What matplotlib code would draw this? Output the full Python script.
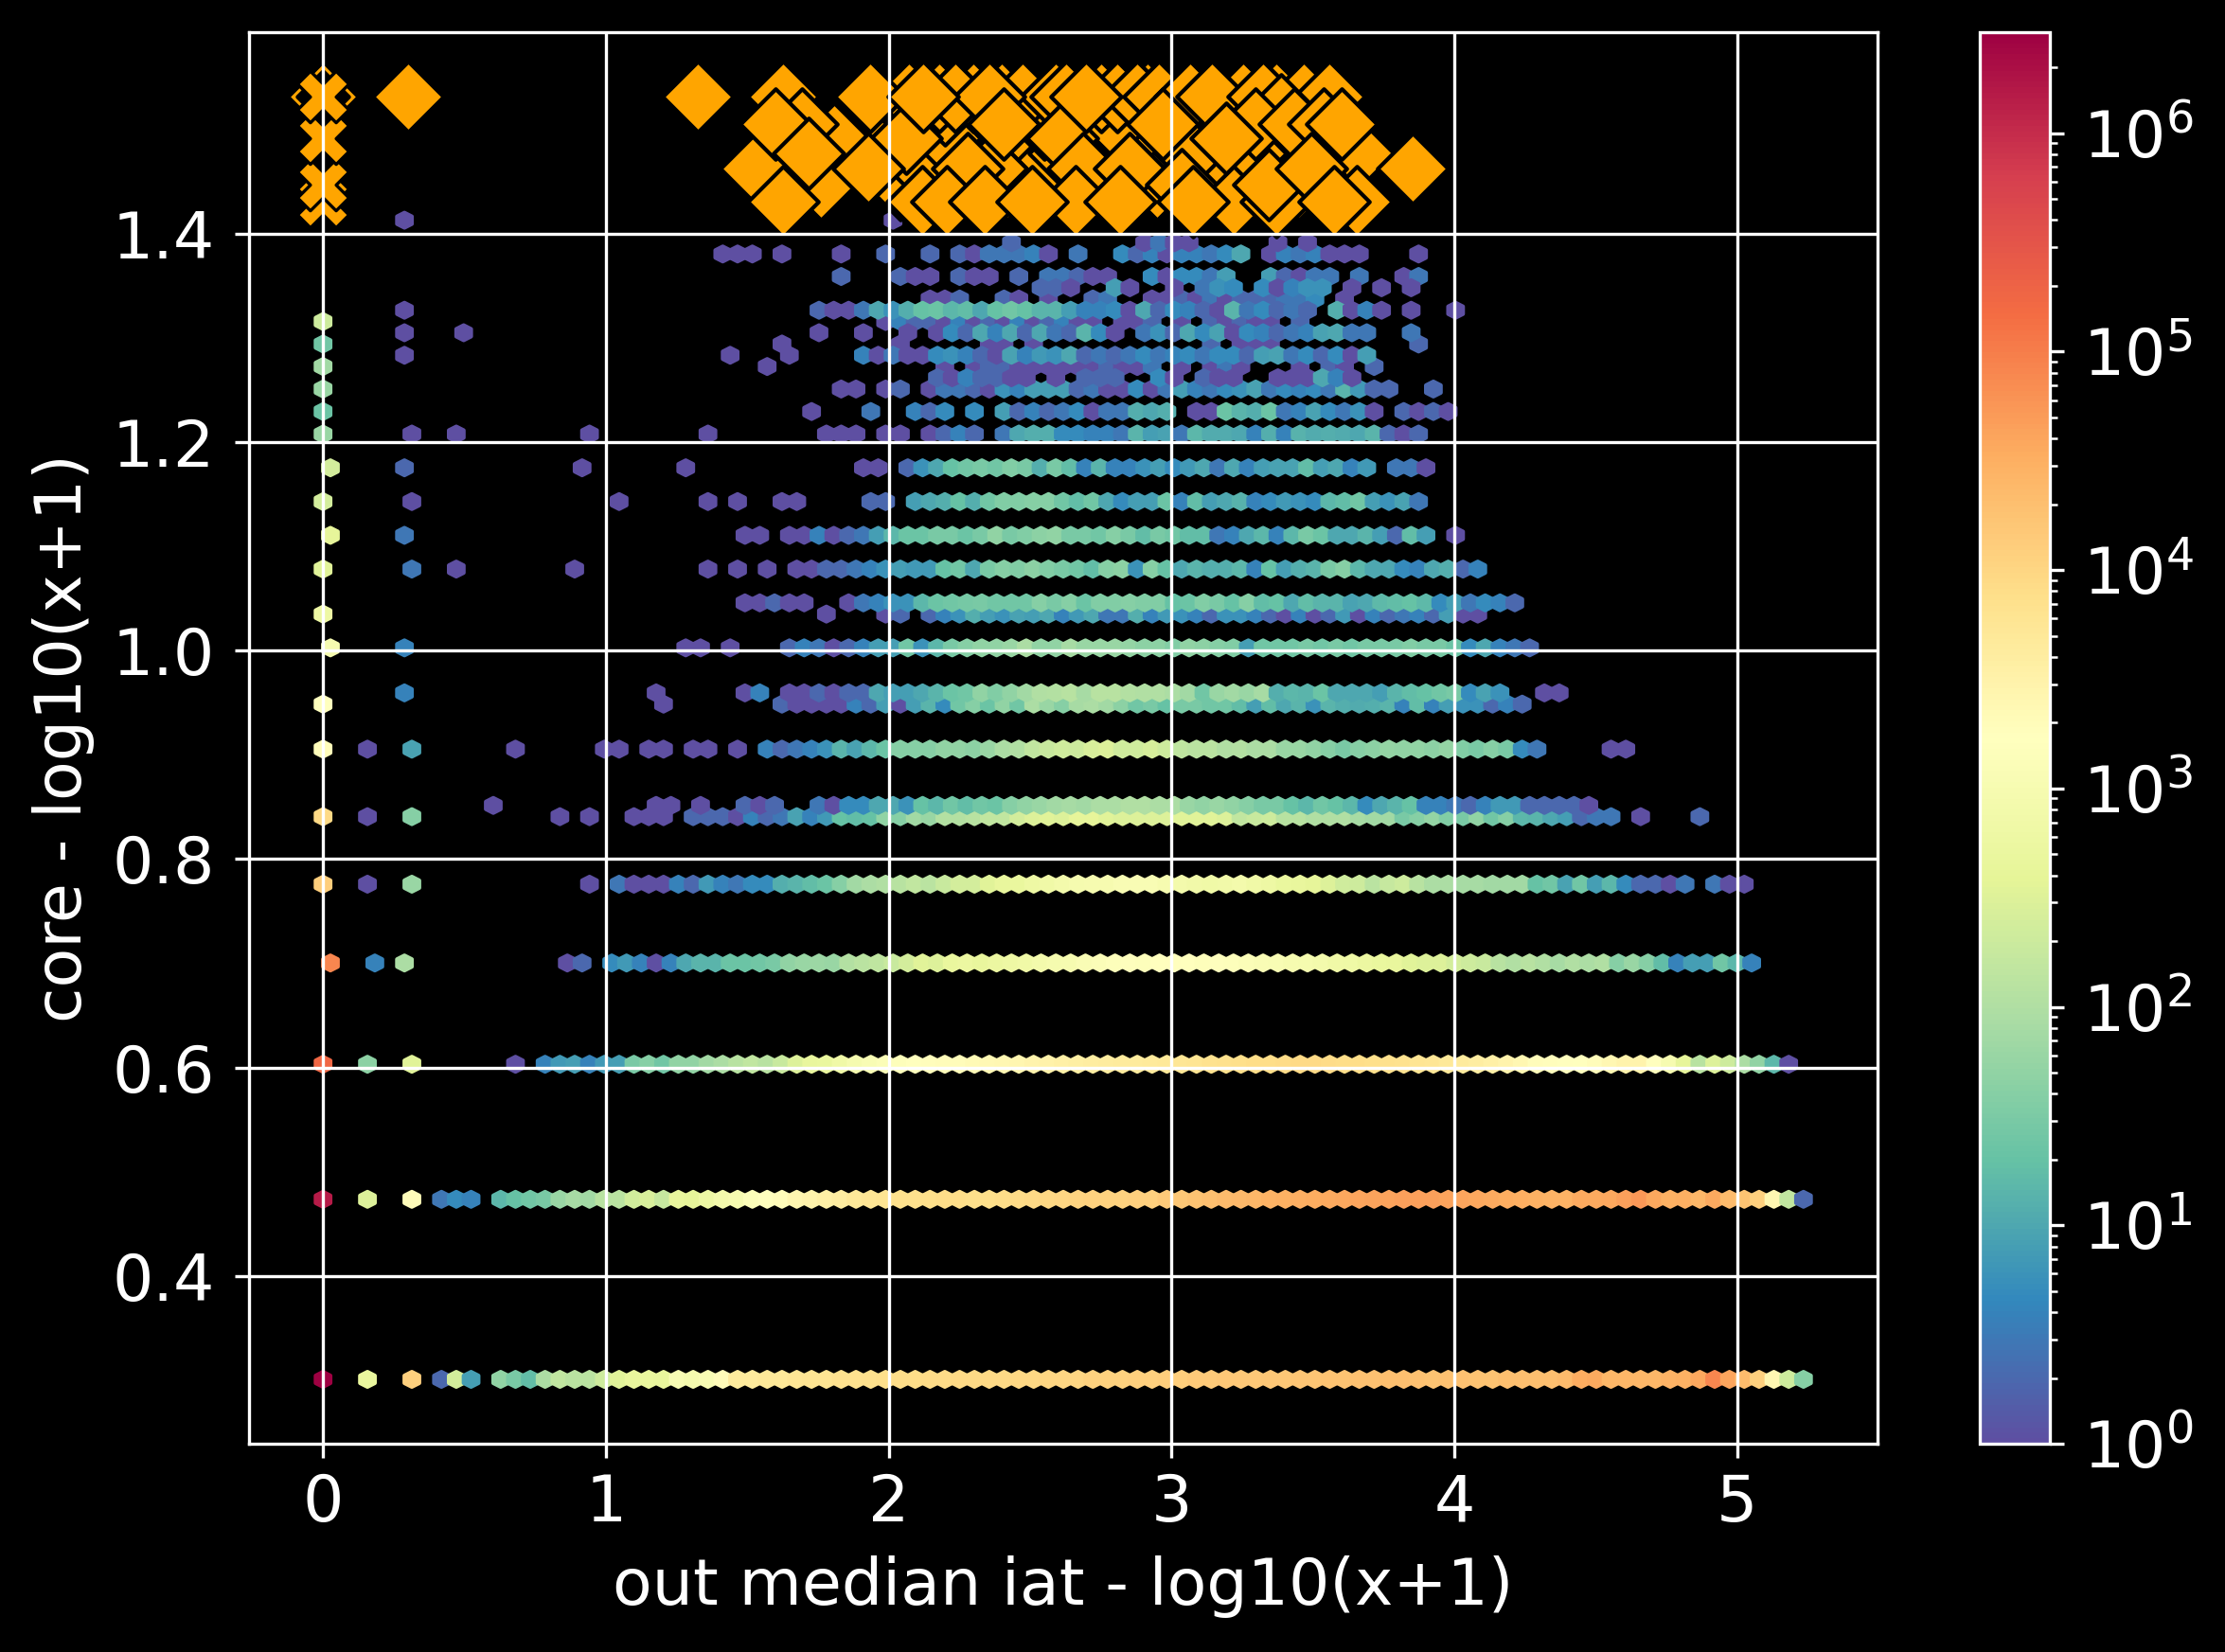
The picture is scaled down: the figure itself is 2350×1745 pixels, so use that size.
"""Hexbin of core vs out median iat, with the top-core nodes as orange diamonds."""
import matplotlib
matplotlib.use("Agg")
import matplotlib.pyplot as plt
import numpy as np
from matplotlib.colors import LogNorm

# hexbin grid: gridsize 100 over the range of the data
XMIN, XMAX = 0.0, 5.234
YMIN, YMAX = 0.30103, 1.5315
GRID = 100
NY = int(GRID / np.sqrt(3))
SX = (XMAX - XMIN) / GRID
SY = (YMAX - YMIN) / NY

# isolated cells: lattice row, column, count
sparse_row = [47, 46, 45, 44, 43, 42, 40.5, 39, 37.5, 36, 34, 32.5, 30, 28,
              51.5, 51.5, 47.5, 46.5, 46.5, 45.5, 46, 45.5, 45.5, 45, 46,
              42, 42, 42, 42, 40.5, 40.5, 40.5,
              39, 39, 39, 39, 39, 39, 37.5,
              36, 36, 36, 36, 36, 36, 32.5, 32.5, 32.5, 32.5, 30.5, 30.5, 30,
              28, 28, 28, 28, 28, 28, 28, 28, 28, 28,
              25.5, 25.5, 25.5, 25.5, 25, 25, 25, 25, 25, 25, 25, 25,
              22, 22, 22, 22,
              18.5, 18.5, 18.5, 18.5, 18.5,
              14, 14, 14, 14,
              8, 8, 8, 8, 8, 8,
              0, 0, 0, 0, 0, 0]
sparse_col = [0, 0, 0, 0, 0, 0, 0, 0, 0, 0, 0, 0, 0, 0,
              5, 38, 5, 5, 9, 5, 31, 31, 27, 30, 74,
              6, 9, 18, 26, 5, 17, 24,
              6, 20, 26, 28, 31, 32, 5,
              6, 9, 17, 26, 28, 30, 5, 24, 25, 27, 5, 22, 23,
              3, 6, 13, 19, 20, 22, 23, 25, 26, 28,
              11, 22, 23, 25, 0, 3, 6, 16, 18, 21, 22, 23,
              0, 3, 6, 18,
              0, 3, 5, 16, 17,
              0, 3, 6, 13,
              0, 3, 6, 8, 9, 10,
              0, 3, 6, 8, 9, 10]
sparse_n = [200, 25, 70, 60, 22, 60, 250, 250, 400, 350, 600, 1000, 1700, 2000,
            1, 1, 1, 1, 1, 1, 1, 1, 1, 1, 2,
            1, 1, 1, 1, 2, 1, 1,
            1, 1, 1, 1, 1, 1, 3,
            3, 1, 1, 1, 1, 1, 4, 1, 1, 1, 4, 1, 1,
            1, 9, 1, 1, 1, 1, 1, 1, 1, 1,
            1, 1, 1, 1, 9000, 1, 40, 1, 1, 1, 1, 1,
            13000, 1, 60, 1,
            80000, 4, 90, 1, 2,
            170000, 45, 350, 1,
            1500000, 300, 2000, 3, 5, 4,
            2900000, 500, 12000, 2, 250, 8]

# contiguous runs of cells, one list per run, 0 = empty cell
run_505 = [2, 0, 0, 0, 0, 0, 0, 0, 0, 1, 3, 1, 1, 0, 0, 0, 0, 0, 1, 0, 1]
run_500 = [1, 1, 1, 0, 1, 0, 0, 0, 1, 0, 0, 2, 0, 0, 2, 0, 2, 1, 3, 3, 3, 4, 1, 0, 3, 0, 0, 5, 2, 4,
           1, 4, 4, 3, 5, 10, 0, 1, 4, 3, 4, 1, 1, 1, 0, 0, 0, 1]
run_490 = [2, 0, 0, 0, 2, 1, 1, 0, 2, 1, 1, 0, 2, 0, 3, 3, 2, 1, 1, 0, 0, 5, 1, 5, 5, 3, 8, 0, 0, 8,
           2, 1, 3, 3, 0, 3, 0, 0, 1, 3]
run_485 = [2, 2, 1, 0, 0, 8, 1, 0, 0, 1, 0, 3, 6, 5, 0, 5, 1, 4, 6, 6, 0, 1, 0, 1, 0, 1]
run_480 = [1, 1, 2, 0, 0, 2, 1, 0, 1, 0, 0, 2, 3, 0, 0, 1, 1, 2, 1, 3, 1, 2, 2, 2, 3, 3, 5, 0, 1]
run_475 = [2, 1, 1, 3, 10, 6, 12, 20, 22, 15, 18, 10, 20, 25, 20, 14, 14, 8, 4, 4, 5, 1, 10, 2, 5,
           4, 2, 1, 14, 3, 5, 2, 3, 2, 0, 12, 1, 4, 1, 0, 1, 0, 0, 1]
run_470 = [1, 4, 2, 2, 1, 4, 1, 2, 1, 4, 1, 2, 4, 1, 1, 0, 1, 1, 2, 0, 1, 0, 2, 1, 2, 1, 1, 0, 2]
run_465 = [1, 0, 0, 1, 0, 0, 1, 0, 1, 5, 2, 10, 4, 10, 2, 10, 3, 2, 14, 5, 1, 0, 3, 6, 2, 10, 5, 9,
           1, 5, 4, 2, 3, 4, 9, 10, 3, 3, 0, 0, 3]
run_460a = [1, 0, 0, 0, 0, 0, 1, 1, 0, 1]
run_460b = [2, 0, 1, 1, 1]
run_455 = [4, 1, 3, 1, 1, 5, 6, 4, 2, 1, 9, 4, 7, 6, 10, 2, 3, 2, 3, 5, 3, 4, 5, 3, 5, 5, 2, 8, 9,
           3, 5, 2, 5, 1, 8]
run_450 = [1, 0, 1, 2, 2, 1, 1, 1, 1, 1, 1, 2, 1, 1, 3, 0, 1, 0, 1, 3, 1, 0, 0, 0, 1, 0, 2, 1, 0, 2]
run_445 = [2, 1, 4, 2, 2, 1, 1, 0, 1, 0, 2, 2, 2, 0, 0, 5, 1, 0, 2, 1, 1, 0, 0, 1, 1, 1, 10, 4, 1]
run_440 = [1, 1, 0, 1, 2, 0, 1, 3, 3, 2, 1, 6, 4, 8, 8, 8, 2, 3, 1, 1, 5, 1, 3, 8, 4, 3, 5, 6, 9, 3,
           5, 4, 5, 3, 14, 7, 2, 2, 0, 0, 2]
run_430 = [1, 0, 0, 0, 3, 0, 0, 4, 2, 5, 0, 5, 0, 8, 2, 4, 2, 3, 5, 1, 3, 3, 12, 10, 12, 0, 1, 1,
           22, 14, 12, 22, 3, 4, 9, 5, 3, 6, 1, 0, 2, 1, 2, 1]
run_420 = [1, 1, 1, 0, 1, 1, 0, 1, 2, 4, 2, 0, 3, 10, 12, 12, 5, 5, 4, 4, 3, 14, 8, 9, 3, 15, 11,
           11, 10, 4, 12, 4, 13, 11, 12, 11, 10, 14, 2, 1, 2]
run_405 = [1, 1, 0, 2, 6, 10, 20, 25, 30, 25, 35, 30, 12, 30, 18, 4, 14, 4, 4, 6, 8, 5, 7, 10, 3,
           10, 4, 8, 9, 9, 18, 8, 10, 4, 7, 0, 3, 3, 1]
run_390 = [2, 2, 0, 8, 10, 12, 20, 12, 25, 35, 35, 40, 40, 25, 18, 25, 10, 5, 8, 8, 22, 4, 18, 8,
           10, 13, 4, 5, 7, 6, 5, 15, 18, 25, 8, 6, 9, 3]
run_375 = [1, 1, 0, 1, 1, 4, 1, 2, 3, 8, 15, 22, 22, 30, 30, 22, 30, 50, 30, 35, 45, 50, 30, 30,
           25, 40, 30, 18, 30, 25, 18, 18, 3, 4, 10, 15, 4, 15, 30, 22, 10, 10, 14, 8, 2, 18, 8, 0, 1]
run_360 = [1, 1, 2, 2, 3, 4, 6, 8, 7, 7, 20, 25, 10, 30, 40, 35, 45, 35, 30, 25, 18, 40, 45, 6, 40,
           20, 10, 14, 12, 12, 15, 4, 20, 8, 12, 14, 30, 40, 15, 10, 10, 5, 4, 10, 12, 2, 4]
run_345 = [1, 1, 2, 1, 1, 0, 0, 1, 3, 4, 6, 6, 15, 22, 25, 28, 30, 25, 25, 25, 40, 30, 40, 22, 35,
           35, 40, 35, 35, 20, 22, 35, 30, 20, 40, 18, 20, 10, 18, 14, 14, 9, 10, 16, 18, 20, 16,
           5, 8, 3, 5, 4, 2]
run_340 = [1, 0, 0, 0, 1, 2, 0, 2, 4, 6, 12, 8, 6, 9, 8, 10, 4, 7, 10, 3, 3, 12, 4, 7, 6, 4, 2, 6,
           6, 4, 2, 1, 4, 1, 2, 7, 1, 4, 2, 3, 4, 2, 8, 1, 1]
run_325 = [2, 4, 3, 1, 2, 4, 8, 8, 25, 6, 15, 30, 40, 50, 50, 60, 90, 50, 50, 80, 60, 60, 60, 55,
           45, 45, 35, 50, 45, 40, 35, 8, 25, 25, 25, 30, 25, 30, 25, 30, 30, 30, 35, 30, 30, 22,
           5, 10, 4, 3, 2]
run_305 = [1, 4, 0, 1, 1, 2, 1, 2, 2, 10, 8, 8, 10, 14, 22, 25, 50, 35, 50, 70, 100, 110, 120, 80,
           120, 120, 110, 100, 100, 90, 70, 25, 60, 70, 60, 80, 12, 15, 14, 22, 10, 10, 10, 8, 14,
           18, 20, 25, 30, 5, 9, 6, 0, 0, 1, 1]
run_300 = [2, 1, 1, 1, 1, 4, 2, 8, 1, 8, 14, 5, 25, 40, 22, 50, 25, 90, 60, 40, 80, 90, 70, 45, 25,
           30, 20, 30, 30, 25, 25, 18, 8, 18, 10, 14, 6, 14, 12, 11, 12, 14, 4, 18, 4, 8, 6, 6, 2,
           4, 2]
run_280 = [4, 2, 3, 4, 6, 14, 9, 15, 22, 40, 40, 40, 50, 50, 45, 60, 90, 100, 150, 180, 220, 200,
           280, 300, 220, 220, 260, 200, 140, 130, 130, 100, 110, 90, 90, 60, 60, 50, 40, 30, 40,
           45, 55, 50, 50, 45, 55, 35, 30, 40, 30, 5, 3, 0, 0, 0, 0, 1, 1]
run_255 = [2, 1, 2, 0, 0, 3, 1, 5, 5, 10, 10, 6, 20, 15, 25, 18, 25, 22, 40, 50, 60, 70, 80, 70, 90,
           90, 100, 100, 90, 90, 60, 50, 60, 50, 40, 30, 30, 20, 15, 25, 20, 15, 5, 10, 14, 20, 4,
           4, 3, 2, 4, 7, 7, 2, 2, 2, 2, 1]
run_250 = [2, 2, 2, 1, 4, 2, 3, 9, 4, 7, 20, 18, 20, 50, 40, 70, 60, 110, 110, 120, 150, 150, 250,
           300, 350, 300, 400, 400, 350, 300, 300, 300, 300, 350, 350, 350, 300, 150, 180, 200,
           120, 120, 100, 100, 100, 80, 70, 70, 30, 40, 55, 35, 30, 50, 25, 40, 15, 14, 10, 8, 2,
           3, 3, 0, 1, 0, 0, 0, 2]
run_220 = [3, 1, 1, 1, 4, 2, 7, 4, 3, 5, 5, 12, 14, 18, 22, 40, 70, 90, 100, 120, 150, 130, 180,
           250, 240, 350, 450, 500, 600, 700, 800, 900, 1000, 1000, 1100, 1100, 1100, 1000, 800,
           750, 700, 750, 800, 700, 600, 500, 450, 400, 300, 220, 200, 130, 170, 200, 120, 90, 90,
           80, 80, 70, 70, 70, 20, 25, 9, 25, 8, 15, 5, 2, 2, 1, 3, 0, 3, 1, 1]
run_185 = [5, 7, 4, 1, 4, 10, 14, 14, 22, 22, 25, 30, 50, 60, 65, 60, 110, 130, 140, 180, 250, 350,
           300, 500, 550, 450, 550, 600, 700, 800, 900, 1000, 1200, 1300, 1500, 1600, 1500, 1700,
           1800, 1700, 1500, 1600, 1500, 1300, 1200, 1100, 1000, 900, 800, 700, 650, 550, 500, 450,
           350, 300, 300, 250, 200, 180, 120, 100, 120, 100, 80, 100, 90, 100, 40, 60, 40, 18, 4,
           8, 8, 25, 15, 4]
run_140 = [4, 7, 8, 4, 7, 8, 30, 40, 25, 50, 50, 70, 90, 120, 150, 120, 180, 300, 450, 500, 700,
           900, 1100, 1300, 1500, 1700, 1900, 2000, 2000, 2200, 2300, 2500, 2700, 3000, 3200, 3500,
           3700, 4000, 4200, 4400, 4500, 4700, 5000, 5500, 6000, 6500, 7000, 7500, 7800, 8000,
           8500, 9000, 9000, 8500, 8000, 8000, 7500, 7000, 6500, 6000, 5500, 5000, 4500, 4000,
           3500, 3000, 2500, 2000, 1900, 1800, 1700, 2000, 2500, 3000, 3000, 1800, 1000, 400, 120,
           300, 200, 90, 50, 15, 1]
run_080 = [15, 20, 25, 30, 60, 80, 70, 120, 130, 230, 280, 170, 450, 400, 600, 800, 1000, 1400,
           1700, 2000, 2600, 3000, 3500, 4000, 5000, 5500, 6000, 7000, 7000, 7500, 8000, 8000,
           7500, 7500, 8000, 8500, 9000, 9500, 10000, 10500, 11000, 11000, 11500, 12000, 12000,
           14000, 16000, 18000, 20000, 22000, 24000, 26000, 28000, 30000, 32000, 34000, 36000,
           38000, 40000, 42000, 44000, 46000, 45000, 45000, 42000, 40000, 38000, 36000, 34000,
           32000, 30000, 28000, 28000, 35000, 36000, 38000, 45000, 55000, 38000, 30000, 32000,
           25000, 35000, 22000, 18000, 12000, 2500, 150, 2]
run_000 = [50, 30, 18, 90, 150, 130, 130, 200, 350, 450, 500, 450, 1100, 900, 1100, 2000, 4500,
           4500, 5000, 5000, 5500, 6000, 6000, 6500, 6500, 7000, 7500, 8000, 8000, 8500, 8500,
           9000, 9000, 9000, 9000, 9500, 9500, 10000, 10000, 10000, 11000, 11000, 11000, 12000,
           12000, 13000, 13000, 14000, 14000, 15000, 15000, 15000, 16000, 16000, 17000, 17000,
           18000, 18000, 19000, 19000, 20000, 20000, 19000, 18000, 19000, 19000, 18000, 18000,
           20000, 20000, 20000, 20000, 22000, 34000, 36000, 26000, 25000, 25000, 25000, 28000,
           30000, 38000, 80000, 40000, 22000, 12000, 2500, 200, 40]

run_rows = [50.5, 50, 49, 48.5, 48, 47.5, 47, 46.5, 46, 46, 45.5, 45, 44.5, 44, 43, 42, 40.5, 39,
            37.5, 36, 34.5, 34, 32.5, 30.5, 30, 28, 25.5, 25, 22, 18.5, 14, 8, 0]
run_starts = [46, 27, 35, 48, 41, 33, 38, 33, 39, 60, 36, 42, 41, 35, 33, 34, 36, 37,
              28, 32, 28, 34, 31, 28, 31, 30, 28, 25, 20, 19, 15, 12, 12]
run_counts = [run_505, run_500, run_490, run_485, run_480, run_475, run_470, run_465, run_460a,
              run_460b, run_455, run_450, run_445, run_440, run_430, run_420, run_405, run_390,
              run_375, run_360, run_345, run_340, run_325, run_305, run_300, run_280, run_255,
              run_250, run_220, run_185, run_140, run_080, run_000]

# diamonds, back to front
diamond_x = [2.04, 2.12, 2.2, 2.45, 2.55, 2.62, 2.75, 2.9, 2.95, 3.12, 3.28, 3.45, 2.42, 3.6, 3.66,
             3.5, 3.3, 2.55, 2.8, 2.2, 1.97,
             2.07, 2.18, 2.30, 2.40, 2.474, 2.59, 2.75, 2.916, 3.254, 3.37,
             1.626, 1.806, 1.933, 2.063, 2.234, 2.357, 2.628, 2.809, 2.879, 2.954, 3.065, 3.143,
             3.322, 3.467, 3.556, 3.388, 1.693, 3.297, 3.433, 3.539, 3.60,
             2.613, 3.067, 1.528, 2.279, 2.364, 2.686, 2.851, 3.852,
             1.76, 2.279, 3.037, 1.626, 2.119, 2.206, 2.66, 3.221, 3.371, 3.656, 2.34, 2.507, 3.077,
             0.302, 1.325, 1.60, 1.715, 1.929, 2.123, 2.405, 2.697, 2.818, 2.97, 3.193, 3.342,
             3.495, 3.573]
diamond_y = [1.447, 1.462, 1.491, 1.477, 1.462, 1.477, 1.447, 1.491, 1.447, 1.462, 1.477, 1.447,
             1.447, 1.462, 1.477, 1.519, 1.519, 1.505, 1.505, 1.519, 1.477,
             1.531, 1.531, 1.531, 1.531, 1.531, 1.531, 1.531, 1.531, 1.531, 1.531,
             1.531, 1.491, 1.531, 1.491, 1.531, 1.531, 1.531, 1.531, 1.531, 1.531, 1.531, 1.531,
             1.531, 1.531, 1.531, 1.519, 1.505, 1.505, 1.505, 1.505, 1.505,
             1.491, 1.477, 1.462, 1.447, 1.462, 1.462, 1.462, 1.462,
             1.447, 1.462, 1.447, 1.431, 1.431, 1.431, 1.431, 1.431, 1.431, 1.431, 1.431, 1.431, 1.431,
             1.531, 1.531, 1.505, 1.477, 1.462, 1.531, 1.505, 1.531, 1.431, 1.505, 1.491, 1.447,
             1.462, 1.431]

# the stack of points at x = 0
zero_back_y = [1.531]
zero_cross_y = [1.431, 1.447, 1.491, 1.531]

x_ticks = [0, 1, 2, 3, 4, 5]
y_ticks = [0.4, 0.6, 0.8, 1.0, 1.2, 1.4]


def cells():
    xs, ys, ns = [], [], []
    for row, col, n in zip(sparse_row, sparse_col, sparse_n):
        xs.append(col); ys.append(row); ns.append(n)
    for row, start, counts in zip(run_rows, run_starts, run_counts):
        for k, n in enumerate(counts):
            if n:
                xs.append(start + k); ys.append(row); ns.append(n)
    xs, ys, ns = np.array(xs, float), np.array(ys, float), np.array(ns, float)
    # half rows sit on the second hexagon lattice, half a column across
    xs = xs + (ys % 1 > 0) * 0.5
    return XMIN + xs * SX, YMIN + ys * SY, ns


W, H = 2350, 1745
plt.style.use("dark_background")
plt.rcParams["font.size"] = 16.4
fig = plt.figure(figsize=(W / 300, H / 300), dpi=300)
ax = fig.add_axes([263 / W, 1 - 1525 / H, (1983 - 263) / W, (1525 - 34) / H])
cax = fig.add_axes([2091 / W, 1 - 1525 / H, (2165 - 2091) / W, (1525 - 34) / H])

x, y, n = cells()
hb = ax.hexbin(x, y, C=n, reduce_C_function=np.sum, gridsize=GRID, cmap="Spectral_r",
               norm=LogNorm(vmin=1, vmax=2.9e6), extent=(XMIN, XMAX, YMIN, YMAX))
ax.scatter(diamond_x, diamond_y, marker="D", s=160, c="orange", edgecolors="black", linewidths=1)
ax.scatter([0] * len(zero_back_y), zero_back_y, marker="D", s=160, c="orange", edgecolors="black", linewidths=1)
ax.scatter([0] * len(zero_back_y), zero_back_y, marker="D", s=85, c="black", edgecolors="black", linewidths=1)
ax.scatter([0] * len(zero_cross_y), zero_cross_y, marker="X", s=170, c="orange", edgecolors="black", linewidths=0.8)
ax.set_xlim(-0.2617, 5.4957)
ax.set_ylim(0.2393, 1.5931)
ax.set_xticks(x_ticks)
ax.set_yticks(y_ticks)
ax.grid(True)
ax.tick_params(axis="y", pad=5.2)
ax.tick_params(axis="x", pad=3.8)
ax.set_xlabel("out median iat - log10(x+1)", labelpad=5.2)
ax.set_ylabel("core - log10(x+1)", labelpad=4.5)
cb = fig.colorbar(hb, cax=cax)
cb.ax.tick_params(which="major", pad=4.8)

fig.savefig("out.png", dpi=300)
